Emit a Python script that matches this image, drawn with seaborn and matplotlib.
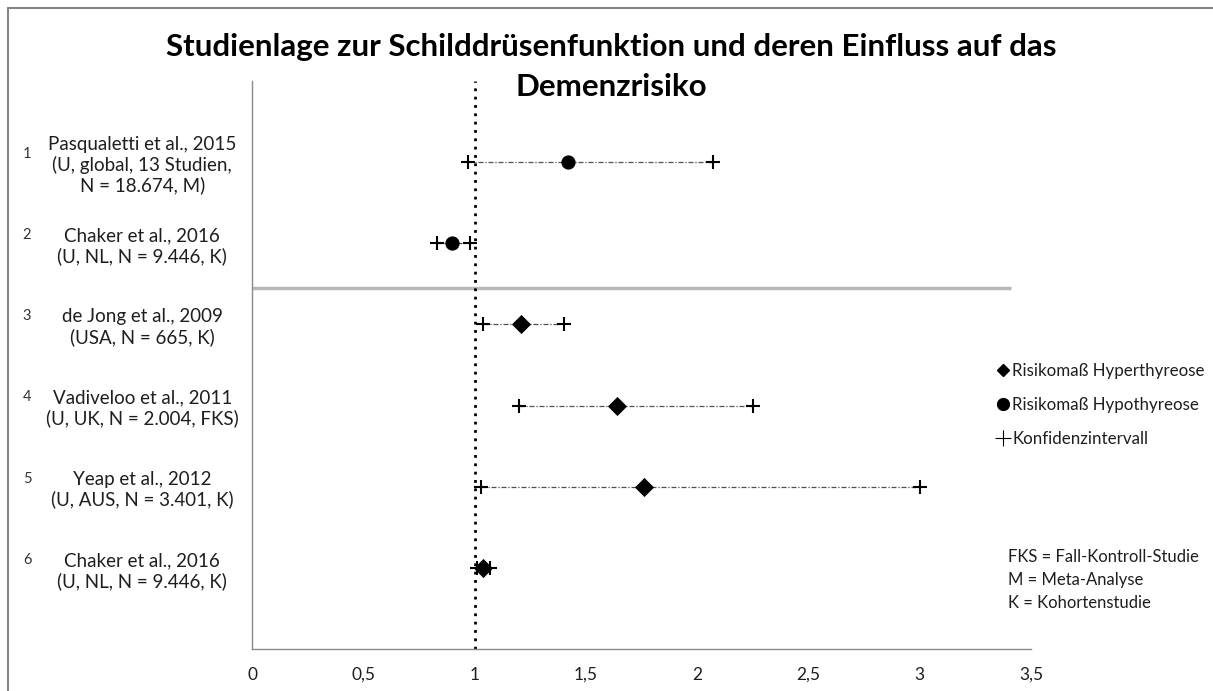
import matplotlib
matplotlib.use("Agg")
import matplotlib.pyplot as plt
import pandas as pd
import seaborn as sns
from matplotlib.lines import Line2D
from matplotlib.transforms import blended_transform_factory

# data
studies = [
    "Pasqualetti et al., 2015\n(U, global, 13 Studien,\nN = 18.674, M)",
    "Chaker et al., 2016\n(U, NL, N = 9.446, K)",
    "de Jong et al., 2009\n(USA, N = 665, K)",
    "Vadiveloo et al., 2011\n(U, UK, N = 2.004, FKS)",
    "Yeap et al., 2012\n(U, AUS, N = 3.401, K)",
    "Chaker et al., 2016\n(U, NL, N = 9.446, K)",
]
study_nr = ["1", "2", "3", "4", "5", "6"]
row_pos = [6, 5, 4, 3, 2, 1]
condition = ["Hypo", "Hypo", "Hyper", "Hyper", "Hyper", "Hyper"]
risk = [1.42, 0.90, 1.21, 1.64, 1.76, 1.04]
ci_low = [0.97, 0.83, 1.04, 1.20, 1.03, 1.01]
ci_high = [2.07, 0.98, 1.40, 2.25, 3.00, 1.07]

x_ticks = [0, 0.5, 1, 1.5, 2, 2.5, 3, 3.5]
x_ticklabels = ["0", "0,5", "1", "1,5", "2", "2,5", "3", "3,5"]
ref_value = 1.0
sep_y = 4.45
sep_xmax = 3.41

legend_labels = ["Risikomaß Hyperthyreose", "Risikomaß Hypothyreose", "Konfidenzintervall"]
notes = ["FKS = Fall-Kontroll-Studie", "M = Meta-Analyse", "K = Kohortenstudie"]
title = "Studienlage zur Schilddrüsenfunktion und deren Einfluss auf das\nDemenzrisiko"

df = pd.DataFrame({"study": studies, "pos": row_pos, "cond": condition,
                   "risk": risk, "low": ci_low, "high": ci_high})

sns.set_style("white")
plt.rcParams["font.family"] = ["Lato", "DejaVu Sans"]

_axis = "#8a8a8a"
_text = "#1e1e1e"

fig = plt.figure(figsize=(12.13, 6.91), dpi=100)
ax = fig.add_axes([252 / 1213, 1 - 649 / 691, (1031 - 252) / 1213, (649 - 81) / 691])

# reference line at 1 and separator between hypo/hyper
ax.vlines(ref_value, 0, 7, colors="black", linestyles=(0, (1, 2)), linewidth=2, zorder=2)
ax.hlines(sep_y, 0, sep_xmax, colors="#b8b8b8", linewidth=2.5, zorder=1)

# confidence interval lines
ax.hlines(df["pos"], df["low"], df["high"], colors="#505050",
          linestyles=(0, (4, 1.5, 1, 1.5)), linewidth=0.9, zorder=3)

hyper = df[df["cond"] == "Hyper"]
hypo = df[df["cond"] == "Hypo"]
sns.scatterplot(x=hyper["risk"], y=hyper["pos"], marker="D", s=95, color="black",
                edgecolor="black", linewidth=0, zorder=5, ax=ax)
sns.scatterplot(x=hypo["risk"], y=hypo["pos"], marker="o", s=105, color="black",
                edgecolor="black", linewidth=0, zorder=5, ax=ax)
sns.scatterplot(x=pd.concat([df["low"], df["high"]]), y=pd.concat([df["pos"], df["pos"]]),
                marker="+", s=110, color="black", linewidth=1.5, zorder=6, ax=ax)

ax.set_xlim(0, 3.5)
ax.set_ylim(0, 7)
ax.set_xticks(x_ticks)
ax.set_xticklabels(x_ticklabels)
ax.set_yticks(range(8))
ax.set_yticklabels([""] + studies[::-1] + [""], ha="center", multialignment="center")
for lbl in ax.get_yticklabels():
    lbl.set_linespacing(1.2)
ax.set_xlabel("")
ax.set_ylabel("")
for side in ["top", "right"]:
    ax.spines[side].set_visible(False)
for side in ["left", "bottom"]:
    ax.spines[side].set_color(_axis)
    ax.spines[side].set_linewidth(1)
ax.tick_params(axis="both", which="both", direction="out", length=4, width=1,
               color=_axis, labelcolor=_text)
ax.tick_params(axis="y", pad=75, labelsize=13.5)
ax.tick_params(axis="x", pad=9, labelsize=12.5)
ax.grid(False)

# study numbers left of the labels
num_tr = blended_transform_factory(fig.transFigure, ax.transData)
for nr, pos in zip(study_nr, row_pos):
    ax.text(27 / 1213, pos + 0.1, nr, transform=num_tr, ha="center", va="center",
            fontsize=10.5, color="#333333")

fig.text(611 / 1213, 1 - 67 / 691, title, ha="center", va="center", fontsize=22.5,
         fontweight="bold", linespacing=1.5, color="black")

handles = [
    Line2D([], [], marker="D", color="black", linestyle="none", markersize=6),
    Line2D([], [], marker="o", color="black", linestyle="none", markersize=8.5),
    Line2D([], [], marker="+", color="black", linestyle="none", markersize=11, markeredgewidth=0.8),
]
fig.legend(handles, legend_labels, loc="upper left", bbox_to_anchor=(996 / 1213, 1 - 363 / 691),
           frameon=False, fontsize=12.2, handlelength=0.8, handletextpad=0.15,
           labelspacing=1.05, borderpad=0, borderaxespad=0, labelcolor=_text)

for i, note in enumerate(notes):
    fig.text(1008 / 1213, 1 - (557 + 23 * i) / 691, note, ha="left", va="center",
             fontsize=12, color=_text)

# chart frame (top and left edges visible in the crop)
fig.add_artist(Line2D([8 / 1213, 8 / 1213], [0, 1 - 8 / 691], transform=fig.transFigure,
                      color="#868686", linewidth=1.5))
fig.add_artist(Line2D([8 / 1213, 1], [1 - 8 / 691, 1 - 8 / 691], transform=fig.transFigure,
                      color="#868686", linewidth=1.5))

fig.savefig("out.png", dpi=100)
